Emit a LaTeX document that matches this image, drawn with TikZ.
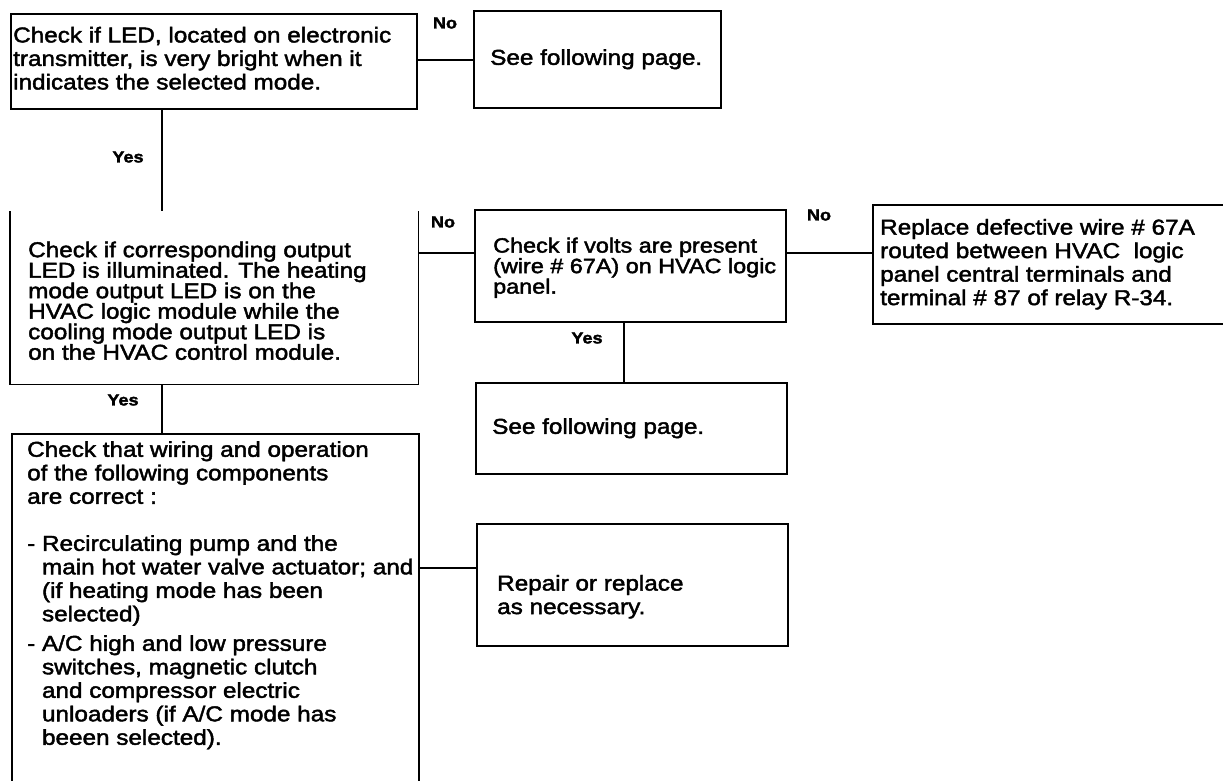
\documentclass[tikz,border=0pt]{standalone}
\usepackage{fontspec}
\setmainfont[FakeStretch=1.13, FakeBold=2]{Liberation Sans}
\usetikzlibrary{positioning}
\tikzset{
    box/.style={
        draw, line width=1.5pt, rectangle, anchor=north west, inner sep=0pt
    },
    open box/.style={box, draw=none},
    boxtext/.style={
        anchor=west, align=left, inner sep=0pt,
        font=\fontsize{21.5}{23.5}\selectfont
    },
    tight/.style={font=\fontsize{21.5}{20.5}\selectfont},
    frame/.style={line width=1.5pt},
    link/.style={line width=1.5pt},
    answer/.style={font=\bfseries\fontsize{16}{16}\selectfont, inner sep=0pt}
}

\begin{document}
\begin{tikzpicture}[x=1pt, y=-1pt]
    \clip (0,0) rectangle (1223,780);
    \fill[white] (0,0) rectangle (1223,780);
    % frames
    \node[box, minimum width=406pt, minimum height=95pt] (ledbright) at (10,13) {};
    \node[box, minimum width=247pt, minimum height=97pt] (nextpageA) at (473,10) {};
    \node[open box, minimum width=407pt, minimum height=172pt] (outputled) at (10,211) {};
    \draw[frame] (outputled.north west) -- (outputled.south west) -- (outputled.south east) -- (outputled.north east);
    \node[box, minimum width=311pt, minimum height=112pt] (volts) at (474,209) {};
    \node[box, minimum width=358pt, minimum height=119pt] (replacewire) at (872,204) {};
    \node[box, minimum width=311pt, minimum height=91pt] (nextpageB) at (475,382) {};
    \node[box, minimum width=311pt, minimum height=122pt] (repair) at (476,523) {};
    \node[box, minimum width=407pt, minimum height=400pt] (wiring) at (11,433) {};

    % texts
    \node[boxtext, right=3pt of ledbright.west, yshift=3pt] (ledbright-txt)
        {Check if LED, located on electronic\\transmitter, is very bright when it\\indicates the selected mode.};
    \node[boxtext, right=17pt of nextpageA.west] (nextpageA-txt) {See following page.};
    \node[boxtext, tight, right=18pt of outputled.west, yshift=-3pt] (outputled-txt)
        {Check if corresponding output\\LED is illuminated. The heating\\mode output LED is on the\\HVAC logic module while the\\cooling mode output LED is\\on the HVAC control module.};
    \node[boxtext, font=\fontsize{20.7}{20.5}\selectfont, right=19pt of volts.west, yshift=-2pt] (volts-txt)
        {Check if volts are present\\(wire \# 67A) on HVAC logic\\panel.};
    \node[boxtext, right=8pt of replacewire.west] (replacewire-txt)
        {Replace defective wire \# 67A\\routed between HVAC\ \ logic\\panel central terminals and\\terminal \# 87 of relay R-34.};
    \node[boxtext, right=17pt of nextpageB.west] (nextpageB-txt) {See following page.};
    \node[boxtext, right=21pt of repair.west, yshift=-12pt] (repair-txt)
        {Repair or replace\\as necessary.};
    \node[boxtext, anchor=north west, below right=8pt and 16pt of wiring.north west] (wiring-txt)
        {Check that wiring and operation\\of the following components\\are correct :\\[23.5pt]
         - Recirculating pump and the\\\hphantom{- }main hot water valve actuator; and\\\hphantom{- }(if heating mode has been\\\hphantom{- }selected)\\[6pt]
         - A/C high and low pressure\\\hphantom{- }switches, magnetic clutch\\\hphantom{- }and compressor electric\\\hphantom{- }unloaders (if A/C mode has\\\hphantom{- }beeen selected).};

    % connector heights
    \coordinate (rowA) at (0,60);
    \coordinate (rowC) at (0,253);
    \coordinate (rowH) at (0,568);
    \coordinate (colA) at (162,0);
    \coordinate (colD) at (624,0);

    \draw[link] (ledbright.east |- rowA) -- (nextpageA.west |- rowA);
    \draw[link] (ledbright.south -| colA) -- (outputled.north -| colA);
    \draw[link] (outputled.east |- rowC) -- (volts.west |- rowC);
    \draw[link] (volts.east |- rowC) -- (replacewire.west |- rowC);
    \draw[link] (volts.south -| colD) -- (nextpageB.north -| colD);
    \draw[link] (outputled.south -| colA) -- (wiring.north -| colA);
    \draw[link] (wiring.east |- rowH) -- (repair.west |- rowH);

    % answers
    \node[answer] (noA) at (445,23) {No};
    \node[answer] (yesA) at (128,157) {Yes};
    \node[answer] (noC) at (443,222) {No};
    \node[answer] (noD) at (819,215) {No};
    \node[answer] (yesD) at (587,338) {Yes};
    \node[answer] (yesC) at (123,400) {Yes};
\end{tikzpicture}
\end{document}
